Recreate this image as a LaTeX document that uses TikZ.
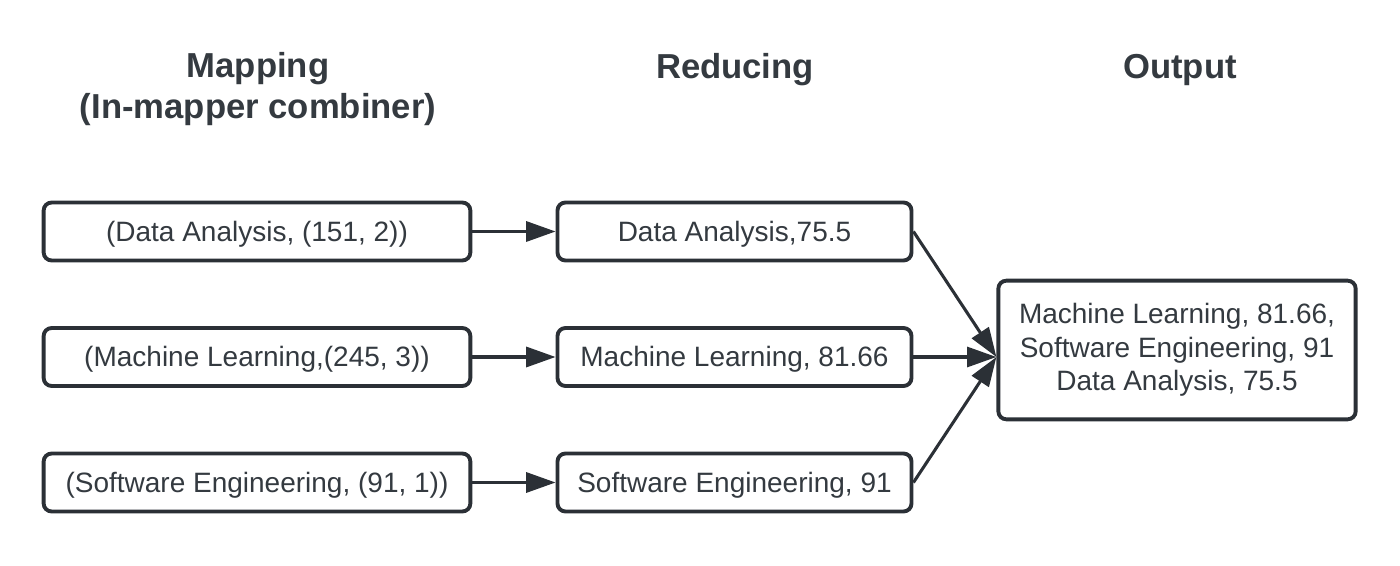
\documentclass[tikz,border=0pt]{standalone}
\usepackage{fontspec}
\setmainfont{Liberation Sans}
\usetikzlibrary{arrows.meta}
\definecolor{inkgray}{HTML}{2B3036}
\definecolor{txtgray}{HTML}{343A40}

\begin{document}
\begin{tikzpicture}[x=0.75pt,y=0.75pt,yscale=-1,xscale=1,
  box/.style={draw=inkgray,line width=2.9pt,rounded corners=6pt,fill=white,
    text=txtgray,font=\fontsize{21}{25}\selectfont,align=center,inner sep=0pt},
  row/.style={box,minimum height=43.5pt,text height=15pt,text depth=0pt},
  head/.style={text=txtgray,font=\fontsize{26}{30.5}\selectfont\bfseries,align=center},
  flow/.style={draw=inkgray,line width=2.3pt,-{Triangle[length=22pt,width=15pt]}}]
%set diagram size
\path[use as bounding box] (0,0) rectangle (1400,566);

% Text Node
\node[head] (hmap) at (258,89) {Mapping\\(In-mapper combiner)};
% Text Node
\node[head] (hred) at (735,70) {Reducing};
% Text Node
\node[head] (hout) at (1180,70) {Output};

%Shape: Rectangle [mapping]
\node[row,minimum width=320pt] (map1) at (257,231.5) {(Data Analysis, (151, 2))};
\node[row,minimum width=320pt] (map2) at (257,357) {(Machine Learning,(245, 3))};
\node[row,minimum width=320pt] (map3) at (257,482.5) {(Software Engineering, (91, 1))};
%Shape: Rectangle [reducing]
\node[row,minimum width=265.5pt] (red1) at (734.5,231.5) {Data Analysis,75.5};
\node[row,minimum width=265.5pt] (red2) at (734.5,357) {Machine Learning, 81.66};
\node[row,minimum width=265.5pt] (red3) at (734.5,482.5) {Software Engineering, 91};
%Shape: Rectangle [output]
\node[box,minimum width=268pt,minimum height=104pt] (out) at (1177,350) {Machine Learning, 81.66,\\Software Engineering, 91\\Data Analysis, 75.5};

\coordinate (join) at (out.west |- red2.east);

%Straight Lines
\draw[flow] (map1) -- (red1);
\draw[flow] (map2) -- (red2);
\draw[flow] (map3) -- (red3);
%Straight Lines
\draw[flow] (red1.east) -- (join);
\draw[flow] (red2.east) -- (join);
\draw[flow] (red3.east) -- (join);

\end{tikzpicture}
\end{document}
